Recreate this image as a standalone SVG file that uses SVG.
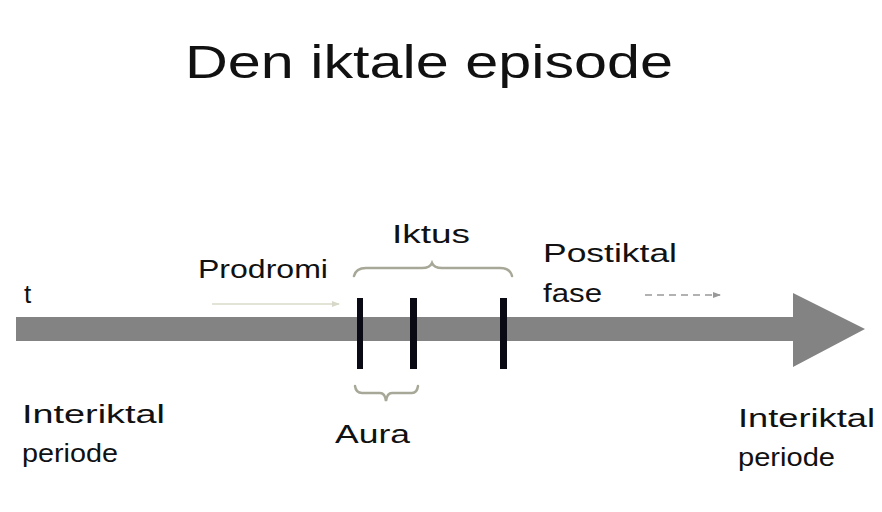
<svg xmlns="http://www.w3.org/2000/svg" width="882" height="512" viewBox="0 0 882 512">
<defs>
<style>
.t{font-family:"Liberation Sans","DejaVu Sans",sans-serif;fill:#111;}
.lbl{font-size:26px;}
.brace{fill:none;stroke:#a8a898;stroke-width:2.5;stroke-linecap:round;}
.tick{fill:#0a0a14;}
</style>
<marker id="ah1" markerWidth="8" markerHeight="8" refX="7" refY="4" orient="auto" markerUnits="userSpaceOnUse">
<path d="M0,1 L8,4 L0,7 Z" fill="#d8d8c8"/>
</marker>
<marker id="ah2" markerWidth="8" markerHeight="8" refX="7" refY="4" orient="auto" markerUnits="userSpaceOnUse">
<path d="M0,1 L8,4 L0,7 Z" fill="#999"/>
</marker>
</defs>
<rect width="882" height="512" fill="#fff"/>
<g id="title"><text class="t" x="185" y="78" font-size="46" textLength="488" lengthAdjust="spacingAndGlyphs">Den iktale episode</text></g>
<g id="connectors">
<path id="timeline" d="M16,317 H793 V293 L865,329 L793,367 V341 H16 Z" fill="#838383"/>
<line x1="212" y1="304" x2="339" y2="304" stroke="#e4e4d6" stroke-width="2" marker-end="url(#ah1)"/>
<line x1="645" y1="295" x2="720" y2="295" stroke="#999" stroke-width="1.6" stroke-dasharray="7,5" marker-end="url(#ah2)"/>
</g>
<g id="ticks">
<rect class="tick" x="357" y="298" width="6" height="71"/>
<rect class="tick" x="410" y="298" width="7" height="71"/>
<rect class="tick" x="500" y="298" width="7" height="71"/>
</g>
<g id="iktus">
<path class="brace" d="M354,276 Q356,268 366,268 H422 Q430,268 432,263 Q434,268 442,268 H500 Q510,268 512,276"/>
<text class="t lbl" x="392" y="243" textLength="78" lengthAdjust="spacingAndGlyphs">Iktus</text>
</g>
<g id="aura">
<path class="brace" d="M355,386 Q356,393 362,393 H380 Q385,393 386,401 Q387,393 392,393 H412 Q417,393 418,386"/>
<text class="t lbl" x="335" y="443" textLength="75" lengthAdjust="spacingAndGlyphs">Aura</text>
</g>
<g id="prodromi"><text class="t lbl" x="198" y="278" textLength="130" lengthAdjust="spacingAndGlyphs">Prodromi</text></g>
<g id="t-label"><text class="t lbl" x="24" y="303">t</text></g>
<g id="postiktal">
<text class="t lbl" x="543" y="262" textLength="134" lengthAdjust="spacingAndGlyphs">Postiktal</text>
<text class="t lbl" x="543" y="302" textLength="59" lengthAdjust="spacingAndGlyphs">fase</text>
</g>
<g id="interiktal-left">
<text class="t lbl" x="22" y="423" textLength="143" lengthAdjust="spacingAndGlyphs">Interiktal</text>
<text class="t lbl" x="22" y="462" textLength="96" lengthAdjust="spacingAndGlyphs">periode</text>
</g>
<g id="interiktal-right">
<text class="t lbl" x="738" y="427" textLength="137" lengthAdjust="spacingAndGlyphs">Interiktal</text>
<text class="t lbl" x="738" y="466" textLength="97" lengthAdjust="spacingAndGlyphs">periode</text>
</g>
</svg>
